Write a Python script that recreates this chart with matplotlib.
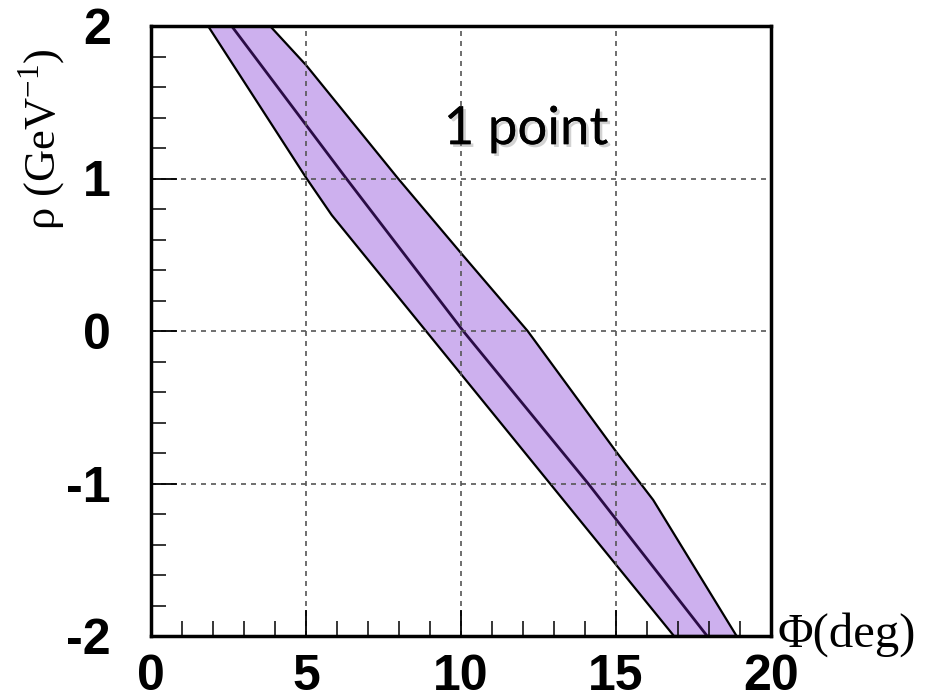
import matplotlib
matplotlib.use("Agg")
import matplotlib.pyplot as plt
import matplotlib.patheffects as pe
from matplotlib.ticker import MultipleLocator

plt.rcParams["axes.unicode_minus"] = False

# Band of allowed (phi, rho) for a single point
phi_center = [2.6, 6.3, 10.07, 14.1, 17.94]
rho_center = [2.0, 1.0, 0.0, -1.0, -2.0]

phi_lo = [1.84, 5.02, 5.83, 16.87]
rho_lo = [2.0, 1.0, 0.76, -2.0]

phi_hi = [3.84, 5.0, 7.97, 10.0, 12.15, 15.0, 16.2, 18.89]
rho_hi = [2.0, 1.744, 1.0, 0.511, 0.0, -0.79, -1.108, -2.0]

x_ticks = [0, 5, 10, 15, 20]
y_ticks = [-2, -1, 0, 1, 2]

W, H = 928, 699
fig = plt.figure(figsize=(W / 100, H / 100), dpi=100)
ax = fig.add_axes([151 / W, 1 - 636 / H, (771 - 151) / W, (636 - 26) / H])

# band polygon: left edge downwards, right edge back up
poly_x = phi_lo + phi_hi[::-1]
poly_y = rho_lo + rho_hi[::-1]
ax.fill(poly_x, poly_y, facecolor="#cdb0ee", edgecolor="black", linewidth=1.6, zorder=1)
ax.plot(phi_center, rho_center, color="#2a0c45", linewidth=2.0, zorder=2)

ax.set_xlim(0, 20)
ax.set_ylim(-2, 2)
ax.set_xticks(x_ticks)
ax.set_yticks(y_ticks)
ax.xaxis.set_minor_locator(MultipleLocator(1))
ax.yaxis.set_minor_locator(MultipleLocator(0.2))

ax.grid(True, which="major", color="#555555", linestyle=(0, (3, 3)), linewidth=1.2, zorder=3)
ax.set_axisbelow(False)
for gl in ax.get_xgridlines() + ax.get_ygridlines():
    gl.set_zorder(3)

for s in ax.spines.values():
    s.set_linewidth(2.5)
    s.set_zorder(5)

ax.tick_params(axis="both", which="major", direction="in", length=19, width=1.3,
               top=False, right=False)
ax.tick_params(axis="both", which="minor", direction="in", length=10.5, width=1.1,
               top=False, right=False)
ax.tick_params(axis="y", which="major", pad=29)
ax.tick_params(axis="x", which="major", pad=13)
for lab in ax.get_xticklabels() + ax.get_yticklabels():
    lab.set_fontfamily("Liberation Sans")
    lab.set_fontweight("bold")
    lab.set_fontsize(36)

fig.text(42 / W, 1 - 139 / H, r"ρ (GeV$^{\mathregular{-1}}$)", rotation=90,
         ha="center", va="center", family="Liberation Serif", fontsize=32)
fig.text(778 / W, 1 - 635 / H, "Φ(deg)", ha="left", va="center",
         family="Liberation Serif", fontsize=35)

ax.text(0.605, 0.83, "1 point", transform=ax.transAxes, ha="center", va="center",
        family="Lato", fontsize=38, color="black", zorder=6,
        path_effects=[pe.withSimplePatchShadow(offset=(2, -2), shadow_rgbFace="gray", alpha=0.35),
                      pe.Normal()])

fig.savefig("out.png", dpi=100)
